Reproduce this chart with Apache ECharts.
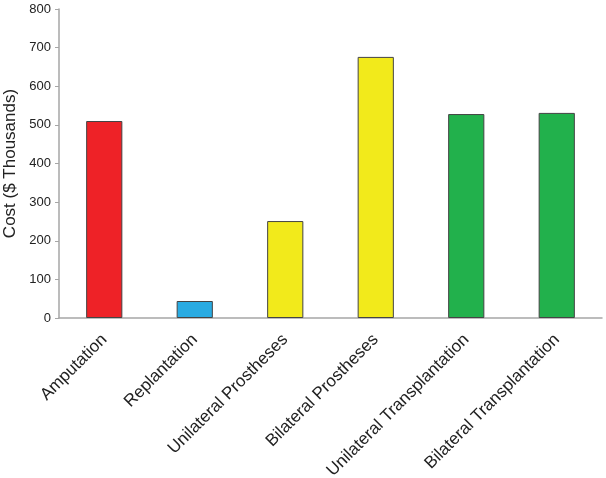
<!DOCTYPE html>
<html lang="en">
<head>
    <meta charset="UTF-8">
    <title>Cost chart</title>
    <script src="https://cdn.jsdelivr.net/npm/echarts@6/dist/echarts.min.js"></script>
    <style>
        html, body { margin: 0; padding: 0; background: #fff; }
        #chart { width: 606px; height: 478px; }
    </style>
</head>
<body>
    <div id="chart"></div>
    <script>
        var categories = ['Amputation', 'Replantation', 'Unilateral Prostheses', 'Bilateral Prostheses', 'Unilateral Transplantation', 'Bilateral Transplantation'];
        var costs = [510, 44, 251, 676, 528, 531];
        var barColors = ['#ee2227', '#29abe2', '#f2ea1b', '#f2ea1b', '#22b14c', '#22b14c'];

        var font = 'Liberation Sans, Arial, sans-serif';
        var myChart = echarts.init(document.getElementById('chart'));
        var option = {
            animation: false,
            grid: { left: 59, right: 4, top: 9, bottom: 160, containLabel: false, outerBoundsMode: 'none' },
            xAxis: {
                type: 'category',
                data: categories,
                axisLine: { lineStyle: { color: '#a6a6a6', width: 1.5 } },
                axisTick: { show: false },
                axisLabel: {
                    interval: 0,
                    rotate: 45,
                    margin: 19,
                    color: '#222',
                    fontSize: 17,
                    fontFamily: font
                }
            },
            yAxis: {
                type: 'value',
                min: 0,
                max: 800,
                interval: 100,
                name: 'Cost ($ Thousands)',
                nameLocation: 'middle',
                nameGap: 33,
                nameTextStyle: { fontSize: 17, color: '#222', fontFamily: font },
                splitLine: { show: false },
                axisLine: { show: true, lineStyle: { color: '#a6a6a6', width: 1.5 } },
                axisTick: { show: true, length: 4, lineStyle: { color: '#a6a6a6' } },
                axisLabel: { fontSize: 13, color: '#222', margin: 8, fontFamily: font }
            },
            series: [{
                type: 'bar',
                barWidth: '40%',
                data: costs.map(function(v, i) {
                    return {
                        value: v,
                        itemStyle: { color: barColors[i], borderColor: '#444', borderWidth: 1 }
                    };
                })
            }]
        };
        myChart.setOption(option);
    </script>
</body>
</html>
